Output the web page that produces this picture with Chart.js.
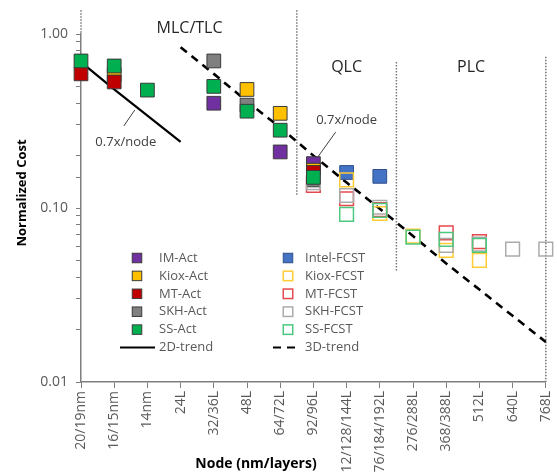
<!DOCTYPE html>
<html>
<head>
<meta charset="utf-8">
<script src="https://cdn.jsdelivr.net/npm/chart.js@4.4.0/dist/chart.umd.min.js"></script>
<style>
  html, body { margin: 0; padding: 0; background: #fff; }
  #wrap { width: 557px; height: 474px; position: relative; }
</style>
</head>
<body>
<div id="wrap"><canvas id="costChart" width="557" height="474"></canvas></div>
<script>
// Node categories (x axis)
const nodes = ['20/19nm', '16/15nm', '14nm', '24L', '32/36L', '48L', '64/72L', '92/96L',
    '112/128/144L', '176/184/192L', '276/288L', '368/388L', '512L', '640L', '768L'];

// Actual normalized cost
const imAct   = [null, null, null, null, 0.40, null, 0.21, 0.18, null, null, null, null, null, null, null];
const kioxAct = [null, 0.585, null, null, null, 0.48, 0.35, 0.165, null, null, null, null, null, null, null];
const mtAct   = [0.59, 0.53, null, null, null, null, null, 0.16, null, null, null, null, null, null, null];
const skhAct  = [null, null, null, null, 0.70, 0.39, null, 0.145, null, null, null, null, null, null, null];
const ssAct   = [0.70, 0.655, 0.476, null, 0.50, 0.36, 0.28, 0.15, null, null, null, null, null, null, null];

// Forecast normalized cost
const intelFcst = [null, null, null, null, null, null, null, null, 0.16, 0.152, null, null, null, null, null];
const kioxFcst  = [null, null, null, null, null, null, null, null, 0.145, 0.093, 0.069, 0.057, 0.050, null, null];
const mtFcst    = [null, null, null, null, null, null, null, 0.135, 0.113, 0.098, null, 0.072, 0.064, null, null];
const skhFcst   = [null, null, null, null, null, null, null, 0.14, 0.118, 0.101, null, 0.061, 0.062, 0.058, 0.058];
const ssFcst    = [null, null, null, null, null, null, null, null, 0.092, 0.097, 0.068, 0.066, 0.061, null, null];

// Trend lines (0.7x per node)
const trend2D = [0.69, 0.48, 0.34, 0.24, null, null, null, null, null, null, null, null, null, null, null];
const trend3D = [null, null, null, 0.84, 0.59, 0.41, 0.29, 0.20, 0.14, 0.099, 0.069, 0.048, 0.034, 0.024, 0.017];

// Region boundaries (category position, top and bottom value)
const boundaryAt     = [0, 6.5, 9.5, 14];
const boundaryTop    = [1.37, 1.37, 0.69, 0.74];
const boundaryBottom = [1.0, 0.119, 0.043, 0.01];

// Y axis labelled ticks
const yTickLabels = ['0.01', '0.10', '1.00'];

const FONT = '"Open Sans", sans-serif';
const TEXT_GRAY = '#595959';

function actSeries(label, data, color, order) {
    return {
        label: label, data: data, type: 'line', showLine: false, order: order,
        pointStyle: 'rect', pointRadius: 9.7,
        pointBackgroundColor: color, pointBorderColor: '#3a3a3a', pointBorderWidth: 1,
        backgroundColor: color, borderColor: '#3a3a3a'
    };
}

function fcstSeries(label, data, color, order) {
    return {
        label: label, data: data, type: 'line', showLine: false, order: order,
        pointStyle: 'rect', pointRadius: 9.7,
        pointBackgroundColor: 'rgba(255,255,255,0)', pointBorderColor: color, pointBorderWidth: 1.5,
        backgroundColor: 'rgba(255,255,255,0)', borderColor: color
    };
}

// boundary line points with gaps between them
const boundaryPoints = [];
boundaryAt.forEach((at, i) => {
    boundaryPoints.push({ x: at, y: boundaryTop[i] });
    boundaryPoints.push({ x: at, y: boundaryBottom[i] });
    boundaryPoints.push({ x: at, y: null });
});

// Excel draws later series on top; lower order = drawn on top in Chart.js
const datasets = [
    actSeries('IM-Act', imAct, '#7030A0', 19),
    fcstSeries('Intel-FCST', intelFcst, '#4472C4', 18),
    actSeries('Kiox-Act', kioxAct, '#FFC000', 17),
    fcstSeries('Kiox-FCST', kioxFcst, '#FFCC33', 16),
    actSeries('MT-Act', mtAct, '#C00000', 15),
    fcstSeries('MT-FCST', mtFcst, '#E5484D', 14),
    actSeries('SKH-Act', skhAct, '#808080', 13),
    fcstSeries('SKH-FCST', skhFcst, '#ABABAB', 12),
    actSeries('SS-Act', ssAct, '#00B050', 11),
    fcstSeries('SS-FCST', ssFcst, '#4CC97F', 10),
    {
        label: '2D-trend', data: trend2D, type: 'line', order: 30,
        borderColor: '#000', borderWidth: 2.2, pointRadius: 0, spanGaps: false
    },
    {
        label: '3D-trend', data: trend3D, type: 'line', order: 31,
        borderColor: '#000', borderWidth: 2.6, borderDash: [8, 6], pointRadius: 0
    },
    {
        label: 'boundary', data: boundaryPoints, type: 'line', order: 40, xAxisID: 'xb',
        borderColor: '#777', borderWidth: 1.5, borderDash: [1.5, 1.5], pointRadius: 0,
        clip: false, spanGaps: false
    }
];

// Intel-FCST is filled
datasets[1].pointBackgroundColor = '#4472C4';
datasets[1].pointBorderColor = '#2F4F8A';
datasets[1].pointBorderWidth = 1;
datasets[1].backgroundColor = '#4472C4';

// Legend columns
const legendCol1 = ['IM-Act', 'Kiox-Act', 'MT-Act', 'SKH-Act', 'SS-Act', '2D-trend'];
const legendCol2 = ['Intel-FCST', 'Kiox-FCST', 'MT-FCST', 'SKH-FCST', 'SS-FCST', '3D-trend'];

const legendPlugin = {
    id: 'twoColLegend',
    afterDraw(chart) {
        const ctx = chart.ctx;
        const cols = [
            { names: legendCol1, markX: 137, textX: 159, lineX: [120, 155] },
            { names: legendCol2, markX: 288, textX: 305, lineX: [273, 296] }
        ];
        ctx.save();
        ctx.font = '13px ' + FONT;
        ctx.textBaseline = 'middle';
        ctx.textAlign = 'left';
        cols.forEach(col => {
            col.names.forEach((name, row) => {
                const ds = chart.data.datasets.find(d => d.label === name);
                const y = 258 + row * 17.9;
                if (ds.showLine === false) {
                    const s = 9.5;
                    ctx.fillStyle = ds.pointBackgroundColor;
                    ctx.fillRect(col.markX - s / 2, y - s / 2, s, s);
                    ctx.lineWidth = ds.pointBorderWidth;
                    ctx.strokeStyle = ds.pointBorderColor;
                    ctx.strokeRect(col.markX - s / 2, y - s / 2, s, s);
                } else {
                    ctx.beginPath();
                    ctx.setLineDash(ds.borderDash || []);
                    ctx.lineWidth = 2.2;
                    ctx.strokeStyle = '#000';
                    ctx.moveTo(col.lineX[0], y);
                    ctx.lineTo(col.lineX[1], y);
                    ctx.stroke();
                    ctx.setLineDash([]);
                }
                ctx.fillStyle = TEXT_GRAY;
                ctx.fillText(name, col.textX, y);
            });
        });
        ctx.restore();
    }
};

// Region names, "0.7x/node" notes and axis titles
const notesPlugin = {
    id: 'notes',
    afterDraw(chart) {
        const ctx = chart.ctx;
        const xs = chart.scales.xb;
        const ys = chart.scales.y;
        const px = v => xs.getPixelForValue(v);
        const py = v => ys.getPixelForValue(v);
        ctx.save();
        ctx.textAlign = 'center';
        ctx.textBaseline = 'middle';

        ctx.fillStyle = '#262626';
        ctx.font = '16px ' + FONT;
        ctx.fillText('MLC/TLC', px(3.27), py(1.08));
        ctx.fillText('QLC', px(8.0), py(0.646));
        ctx.fillText('PLC', px(11.75), py(0.646));

        ctx.fillStyle = '#404040';
        ctx.font = '13px ' + FONT;
        ctx.fillText('0.7x/node', px(1.35), py(0.24));
        ctx.fillText('0.7x/node', px(8.0), py(0.32));

        ctx.strokeStyle = '#404040';
        ctx.lineWidth = 1;
        ctx.beginPath();
        ctx.moveTo(px(1.29), py(0.296));
        ctx.lineTo(px(1.62), py(0.366));
        ctx.moveTo(px(7.67), py(0.273));
        ctx.lineTo(px(7.13), py(0.196));
        ctx.stroke();

        // axis titles
        ctx.fillStyle = '#000';
        ctx.font = 'bold 14px ' + FONT;
        ctx.fillText('Node (nm/layers)', 256, 464);
        ctx.translate(22, 193);
        ctx.rotate(-Math.PI / 2);
        ctx.font = 'bold 13px ' + FONT;
        ctx.fillText('Normalized Cost', 0, 0);
        ctx.restore();
    }
};

const ctx = document.getElementById('costChart');
new Chart(ctx, {
    type: 'line',
    data: { labels: nodes, datasets: datasets },
    options: {
        responsive: false,
        animation: false,
        layout: { padding: { top: 34, right: 9, left: 0, bottom: 0 } },
        plugins: {
            legend: { display: false },
            tooltip: { enabled: false }
        },
        scales: {
            x: {
                type: 'category',
                offset: false,
                grid: { display: true, drawOnChartArea: false, drawTicks: true, tickLength: 6, color: '#7f7f7f', offset: false },
                border: { color: '#7f7f7f', width: 1.5 },
                ticks: {
                    autoSkip: false, maxRotation: 90, minRotation: 90, padding: 3,
                    color: TEXT_GRAY, font: { family: FONT, size: 14 }
                },
                afterFit(scale) {
                    scale.height = 92;
                    scale.paddingLeft = 0;
                    scale.paddingRight = 0;
                }
            },
            xb: {
                type: 'linear', min: 0, max: 14, display: false
            },
            y: {
                type: 'logarithmic',
                min: 0.01,
                max: 1,
                grid: { display: true, drawOnChartArea: false, drawTicks: true, tickLength: 5, color: '#7f7f7f' },
                border: { color: '#7f7f7f', width: 1.5 },
                ticks: {
                    autoSkip: false, padding: 8,
                    color: TEXT_GRAY, font: { family: FONT, size: 14 },
                    callback: function(value) {
                        const lg = Math.log10(value);
                        if (Math.abs(lg - Math.round(lg)) > 1e-6) return '';
                        return yTickLabels[Math.round(lg) + 2];
                    }
                },
                afterFit(scale) { scale.width = 81; }
            }
        }
    },
    plugins: [legendPlugin, notesPlugin]
});
</script>
</body>
</html>
